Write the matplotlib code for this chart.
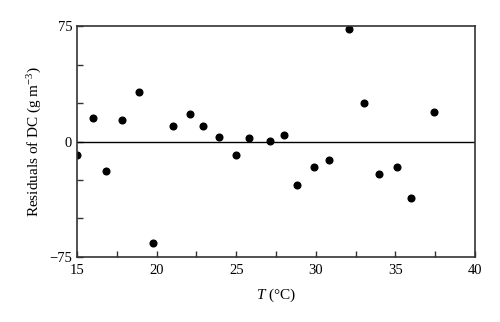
import matplotlib
matplotlib.use("Agg")
import matplotlib.pyplot as plt
from matplotlib.ticker import MultipleLocator

plt.rcParams['font.family'] = ['Liberation Serif', 'DejaVu Serif']
plt.rcParams['mathtext.fontset'] = 'custom'
plt.rcParams['mathtext.rm'] = 'Liberation Serif'
plt.rcParams['mathtext.it'] = 'Liberation Serif:italic'

# temperature (deg C) and residuals of DC (g m^-3)
temp = [15.0, 16.0, 16.8, 17.8, 18.9, 19.8, 21.0, 22.1, 22.9, 23.9, 25.0, 25.8,
        27.1, 28.0, 28.8, 29.9, 30.8, 32.1, 33.0, 34.0, 35.1, 36.0, 37.4]
resid = [-9, 15.5, -19, 14, 32, -66, 10, 17.7, 10, 2.7, -8.8, 2,
         0.3, 4.2, -28, -16.4, -12, 72.9, 25.2, -21, -16.4, -37, 19]

xticks = [15, 20, 25, 30, 35, 40]
yticks = [-75, 0, 75]

fig = plt.figure(figsize=(5, 3.22), dpi=100)
ax = fig.add_axes([0.154, 0.202, 0.796, 0.717])

ax.axhline(0, color='black', lw=1.0)
ax.plot(temp, resid, 'o', color='black', markersize=4.8)

ax.set_xlim(15, 40)
ax.set_ylim(-75, 75)
ax.set_xticks(xticks)
ax.set_yticks(yticks)
ax.set_yticklabels(['\u221275', '0', '75'])
ax.xaxis.set_minor_locator(MultipleLocator(2.5))
ax.yaxis.set_minor_locator(MultipleLocator(25))
ax.tick_params(which='both', direction='in', top=False, right=False,
               labelsize=10.5, color='#333333')
ax.tick_params(axis='x', pad=5)
ax.tick_params(which='major', length=4, width=1)
ax.tick_params(which='minor', length=4, width=1)

for s in ax.spines.values():
    s.set_color('#333333')
    s.set_linewidth(1.2)

ax.set_xlabel('$T$ (\u00b0C)', fontsize=11, labelpad=7)
ax.set_ylabel('Residuals of DC (g\u2009m$^{\u22123}$)', fontsize=11, labelpad=4)

fig.savefig('out.png', dpi=100)
